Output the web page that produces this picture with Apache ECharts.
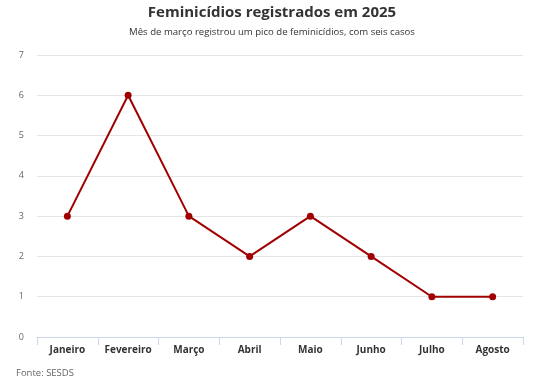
<!DOCTYPE html>
<html><head><meta charset="utf-8">
<script src="https://cdn.jsdelivr.net/npm/echarts@6/dist/echarts.min.js"></script>
<style>html,body{margin:0;padding:0;background:#fff}#c{width:544px;height:376px}</style>
</head><body><div id="c"></div>
<script>
var categories = ['Janeiro','Fevereiro','Março','Abril','Maio','Junho','Julho','Agosto'];
var values = [3, 6, 3, 2, 3, 2, 1, 1];
var titleText = 'Feminicídios registrados em 2025';
var subtitleText = 'Mês de março registrou um pico de feminicídios, com seis casos';
var sourceText = 'Fonte: SESDS';

var chart = echarts.init(document.getElementById('c'));
chart.setOption({
  backgroundColor: '#fff',
  animation: false,
  textStyle: { fontFamily: 'Open Sans' },
  title: [
    { text: titleText, left: 'center', top: 0,
      textStyle: { fontFamily: 'Open Sans', fontSize: 15, fontWeight: 'bold', color: '#333' } },
    { text: subtitleText, left: 'center', top: 22,
      textStyle: { fontFamily: 'Open Sans', fontSize: 9.6, fontWeight: 'normal', color: '#333' } },
    { text: sourceText, left: 11, top: 363,
      textStyle: { fontFamily: 'Open Sans', fontSize: 9.5, fontWeight: 'normal', color: '#666' } }
  ],
  grid: { left: 37, right: 21, top: 55, bottom: 39, containLabel: false },
  xAxis: {
    type: 'category', data: categories, boundaryGap: true,
    axisLine: { lineStyle: { color: '#ccd6eb' } },
    axisTick: { show: true, length: 8, lineStyle: { color: '#ccd6eb' } },
    axisLabel: { interval: 0, color: '#333', fontSize: 10, fontWeight: 'bold', margin: 8, fontFamily: 'Open Sans' }
  },
  yAxis: {
    type: 'value', min: 0, max: 7, interval: 1,
    axisLine: { show: false }, axisTick: { show: false },
    axisLabel: { color: '#666', fontSize: 9, margin: 13, fontFamily: 'Open Sans' },
    splitLine: { lineStyle: { color: '#e6e6e6' } }
  },
  series: [{
    type: 'line', data: values,
    lineStyle: { color: '#a00000', width: 2 },
    itemStyle: { color: '#a00000' },
    symbol: 'circle', symbolSize: 7
  }]
});
</script></body></html>
